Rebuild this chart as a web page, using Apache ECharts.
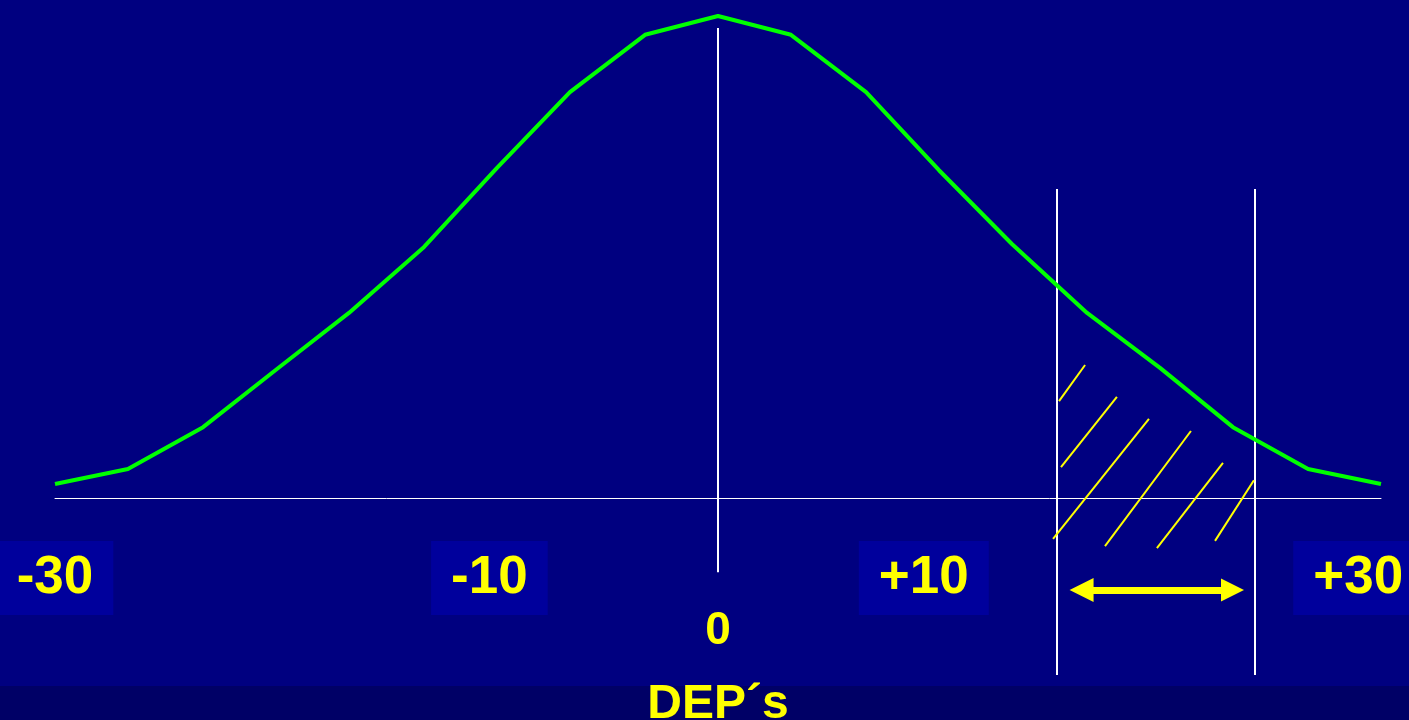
<!DOCTYPE html>
<html>
<head>
<meta charset="utf-8">
<script src="https://cdn.jsdelivr.net/npm/echarts@6/dist/echarts.min.js"></script>
<style>html,body{margin:0;padding:0;background:#000080;}#c{width:1409px;height:720px;}</style>
</head>
<body>
<div id="c"></div>
<script>
// Curve (x in DEP units, y as relative height 0..100)
const curveX = [-30, -26.7, -23.3, -20, -16.7, -13.3, -10, -6.7, -3.3, 0, 3.3, 6.7, 10, 13.3, 16.7, 20, 23.3, 26.7, 30];
const curveY = [2.9, 6.0, 14.7, 26.6, 38.4, 52.1, 68.5, 84.2, 96.1, 100, 96.1, 84.2, 68.0, 52.7, 38.4, 27.0, 14.7, 6.0, 2.9];
// Tick labels
const tickValues = [-30, -10, 10, 30];
const tickLabels = ['-30', '-10', '+10', '+30'];
const zeroValue = [0];
const zeroLabel = ['0'];
const axisName = 'DEP\u00B4s';
// Reference lines
const zeroLine = [[0, -15.4], [0, 97.5]];
const bandLeft = [[15.34, -36.7], [15.34, 64.1]];
const bandRight = [[24.3, -36.7], [24.3, 64.1]];
// Hatch segments inside the band
const hatches = [
  [[15.43, 20.1], [16.61, 27.6]],
  [[15.52, 6.4], [18.05, 21.0]],
  [[15.16, -8.5], [19.50, 16.4]],
  [[17.51, -10.0], [21.40, 13.9]],
  [[19.86, -10.4], [22.85, 7.3]],
  [[22.49, -8.9], [24.25, 3.7]]
];
// Double arrow under the band
const arrow = [[16.45, -19.1], [23.28, -19.1]];

const chart = echarts.init(document.getElementById('c'));
const yellow = '#FFFF00';
const font = 'Liberation Sans, Arial, sans-serif';
chart.setOption({
  backgroundColor: '#000080',
  animation: false,
  graphic: [{
    type: 'rect', left: 0, bottom: 0, z: -10, silent: true,
    shape: { width: 1409, height: 34 }, style: { fill: '#000066' }
  }],
  grid: { left: 55, right: 28, top: 16, bottom: 222, containLabel: false, outerBoundsMode: 'none' },
  xAxis: [{
    // main data axis: draws the baseline
    type: 'value', min: -30, max: 30, position: 'bottom',
    axisLine: { show: true, onZero: false, lineStyle: { color: '#ffffff', width: 1 } },
    axisTick: { show: false }, splitLine: { show: false },
    axisLabel: { show: false }
  }, {
    // zero label and axis title
    type: 'value', min: -30, max: 30, position: 'bottom',
    axisLine: { show: false }, axisTick: { show: false }, splitLine: { show: false },
    axisLabel: {
      customValues: zeroValue,
      formatter: v => zeroLabel[zeroValue.indexOf(v)],
      color: yellow, fontFamily: font, fontWeight: 'bold', fontSize: 46, margin: 110
    },
    name: axisName, nameLocation: 'middle', nameGap: 183,
    nameTextStyle: { color: yellow, fontFamily: font, fontWeight: 'bold', fontSize: 48 }
  }, {
    // boxed tick labels (placed schematically in the original slide)
    type: 'value', min: -30, max: 31.05, position: 'bottom',
    axisLine: { show: false }, axisTick: { show: false }, splitLine: { show: false },
    axisLabel: {
      customValues: tickValues,
      formatter: v => tickLabels[tickValues.indexOf(v)],
      color: yellow, fontFamily: font, fontWeight: 'bold', fontSize: 53, lineHeight: 54,
      backgroundColor: '#00009C', padding: [10, 20, 10, 20], margin: 43
    }
  }],
  yAxis: {
    type: 'value', min: 0, max: 100, show: false
  },
  series: [{
    type: 'line', data: curveX.map((x, i) => [x, curveY[i]]),
    showSymbol: false, lineStyle: { color: '#00FF00', width: 4 }, z: 5
  }, {
    type: 'lines', coordinateSystem: 'cartesian2d', clip: false, z: 3,
    lineStyle: { color: '#ffffff', width: 2, opacity: 1 },
    data: [{ coords: zeroLine }, { coords: bandLeft }, { coords: bandRight }]
  }, {
    type: 'lines', coordinateSystem: 'cartesian2d', clip: false, z: 4,
    lineStyle: { color: yellow, width: 2, opacity: 1 },
    data: hatches.map(h => ({ coords: h }))
  }, {
    type: 'lines', coordinateSystem: 'cartesian2d', clip: false, z: 4,
    symbol: ['triangle', 'triangle'], symbolSize: [24, 23],
    lineStyle: { color: yellow, width: 7, opacity: 1 },
    itemStyle: { color: yellow },
    data: [{ coords: arrow }]
  }]
});
</script>
</body>
</html>
